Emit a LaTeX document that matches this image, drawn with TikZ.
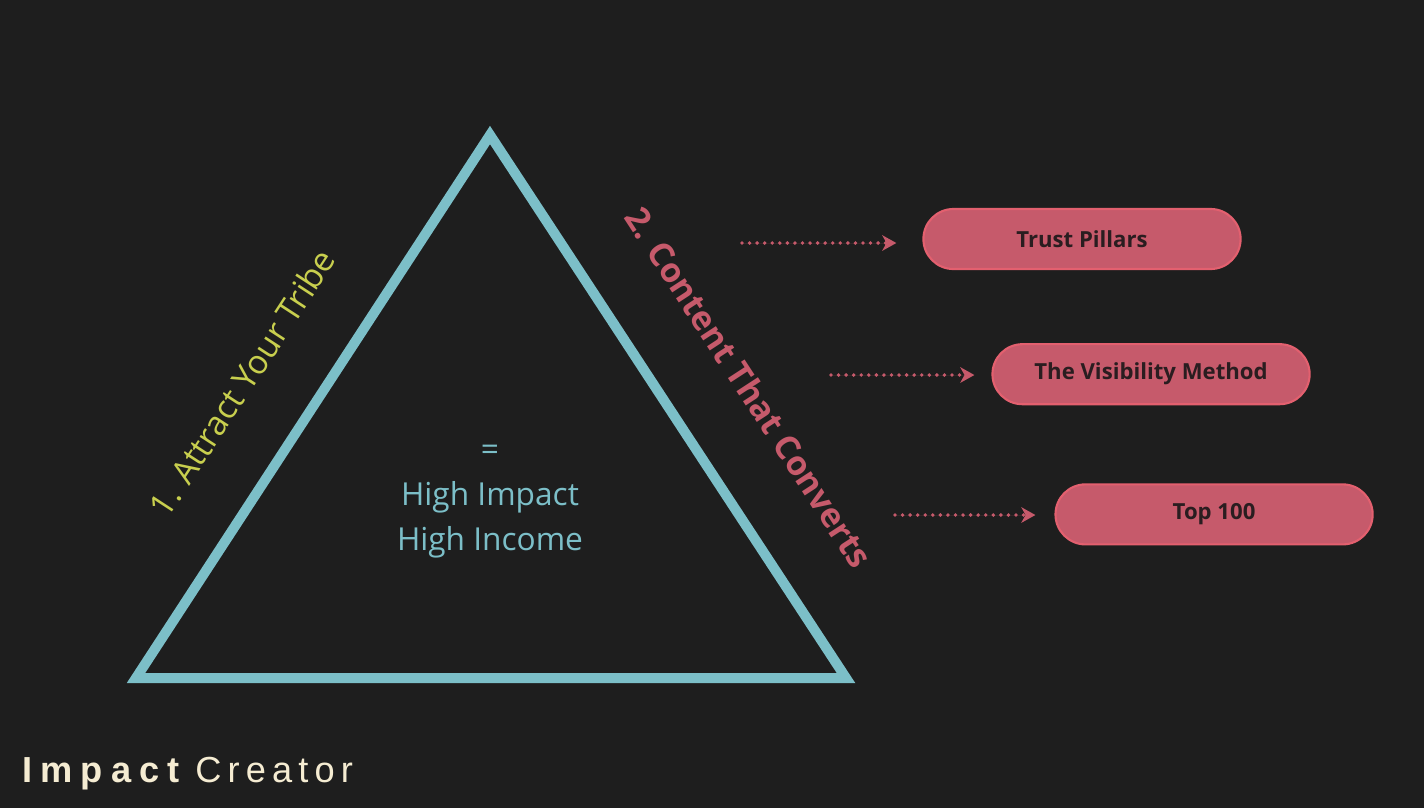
\documentclass[tikz,border=0pt]{standalone}
\usepackage{fontspec}
\setmainfont{Open Sans}
\newfontfamily\brandbold[LetterSpace=22]{Liberation Sans}
\newfontfamily\brandlight[LetterSpace=17]{Liberation Sans}
\usetikzlibrary{arrows.meta, positioning}

\definecolor{bgc}{HTML}{1E1E1E}
\definecolor{tealc}{HTML}{7CBFC8}
\definecolor{limec}{HTML}{C8CF4E}
\definecolor{rosec}{HTML}{C65A6B}
\definecolor{roseedge}{HTML}{E3606F}
\definecolor{inkc}{HTML}{2A1D20}
\definecolor{creamc}{HTML}{F5ECD2}

\begin{document}
\begin{tikzpicture}[
  x=0.01cm, y=-0.01cm,
  pill/.style={
    rectangle, rounded corners=0.3cm,
    draw=roseedge, line width=0.6pt, fill=rosec,
    minimum width=3.17cm, minimum height=0.6cm,
    text=inkc, font=\fontsize{6.3}{7.6}\selectfont\bfseries
  },
  sidelabel/.style={font=\fontsize{9.5}{11}\selectfont, inner sep=0pt},
  dotarrow/.style={
    draw=rosec, fill=rosec, line width=1.1pt, line cap=round,
    dash pattern=on 0pt off 2.15pt,
    -{Stealth[length=4pt, width=4.4pt, inset=1.2pt, line cap=butt, sep=0pt]}
  }
]

% Fond
\fill[bgc] (0,0) rectangle (1424,808);
\useasboundingbox (0,0) rectangle (1424,808);

% Triangle
\coordinate (apex) at (490,135);
\coordinate (base left) at (136,678);
\coordinate (base right) at (846,678);
\draw[tealc, line width=2.85pt, line join=miter] (apex) -- (base left) -- (base right) -- cycle;

% Centre
\node[text=tealc, font=\fontsize{9}{12.8}\selectfont, align=center] (core) at (490,502)
  {=\\High Impact\\High Income};

% Cotes
\node[sidelabel, text=limec, rotate=56.9] (tribe) at (242,383) {1. Attract Your Tribe};
\node[sidelabel, text=rosec, rotate=-56.9, font=\fontsize{9.6}{11}\selectfont\bfseries] (content) at (749,387)
  {2. Content That Converts};

% Piliers
\node[pill] (TP) at (1082,239) {Trust Pillars};
\node[pill, below=0.73cm of TP, xshift=0.69cm] (VM) {The Visibility Method};
\node[pill, below=0.78cm of VM, xshift=0.63cm] (T100) {Top 100};

% Fleches
\coordinate (TPin) at (742,243);
\coordinate (VMin) at (831,375);
\coordinate (T100in) at (895,515);
\draw[dotarrow, shorten >=0.26cm] (TPin) -- (TPin -| TP.west);
\draw[dotarrow, shorten >=0.17cm] (VMin) -- (VMin -| VM.west);
\draw[dotarrow, shorten >=0.19cm] (T100in) -- (T100in -| T100.west);

% Marque
\node[anchor=base west, inner sep=0pt, text=creamc, font=\fontsize{10.3}{12}\selectfont] (brand) at (22,782)
  {{\brandbold\bfseries Impact}\hspace{0.16cm}{\brandlight Creator}};

\end{tikzpicture}
\end{document}
